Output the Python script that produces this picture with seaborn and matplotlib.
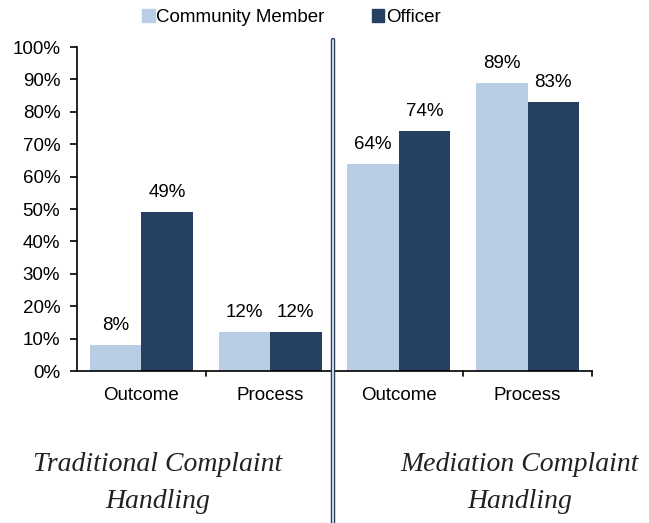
import matplotlib.pyplot as plt
import pandas as pd
import seaborn as sns
from matplotlib.lines import Line2D
from matplotlib.patches import Patch

groups = ["Traditional Outcome", "Traditional Process", "Mediation Outcome", "Mediation Process"]
tick_labels = ["Outcome", "Process", "Outcome", "Process"]
community = [8, 12, 64, 89]
officer = [49, 12, 74, 83]
series = ["Community Member", "Officer"]
section_titles = ["Traditional Complaint\nHandling", "Mediation Complaint\nHandling"]

LIGHT = "#B9CDE5"
DARK = "#254061"

df = pd.DataFrame({
    "group": groups * 2,
    "value": community + officer,
    "series": [series[0]] * 4 + [series[1]] * 4,
})

sns.set_style("white")
plt.rcParams["font.family"] = ["Liberation Sans", "DejaVu Sans"]
plt.rcParams["text.color"] = "black"
plt.rcParams["xtick.color"] = "black"
plt.rcParams["ytick.color"] = "black"

fig = plt.figure(figsize=(6.49, 5.23), dpi=100)
ax = fig.add_axes([0.1186, 0.2906, 0.7935, 0.6194])

sns.barplot(data=df, x="group", y="value", hue="series", order=groups,
            hue_order=series, palette=[LIGHT, DARK], width=0.8,
            saturation=1, linewidth=0, ax=ax, legend=False)

for cont in ax.containers:
    ax.bar_label(cont, labels=[f"{v:.0f}%" for v in cont.datavalues],
                 padding=8, fontsize=13.5, color="black")

ax.set_ylim(0, 100)
ax.set_xlim(-0.5, 3.5)
ax.set_yticks(range(0, 101, 10))
ax.set_yticklabels([f"{t}%" for t in range(0, 101, 10)], fontsize=13.5)
ax.set_xticks(range(4))
ax.set_xticklabels(tick_labels, fontsize=13.5)
ax.set_xlabel("")
ax.set_ylabel("")
for s in ["top", "right"]:
    ax.spines[s].set_visible(False)
for s in ["left", "bottom"]:
    ax.spines[s].set_color("black")
    ax.spines[s].set_linewidth(1.2)
ax.tick_params(axis="y", left=True, length=5, width=1.2, pad=7)
ax.tick_params(axis="x", bottom=False, pad=8)
for xb in [0.5, 1.5, 2.5, 3.5]:
    ax.plot([xb, xb], [0, -1.5], color="black", lw=1.2, clip_on=False)

handles = [Patch(color=LIGHT), Patch(color=DARK)]
fig.legend(handles, series, loc="center", bbox_to_anchor=(0.449, 0.966),
           ncol=2, frameon=False, fontsize=13.5, handlelength=0.65,
           handleheight=0.65, handletextpad=0.1, columnspacing=2.5)

# double separator line between the two sections
fig.add_artist(Line2D([0.5135, 0.5135], [0, 0.924], transform=fig.transFigure,
                      color=DARK, lw=3.2))
fig.add_artist(Line2D([0.5135, 0.5135], [0, 0.924], transform=fig.transFigure,
                      color="white", lw=1.1))

for xc, title in zip([0.243, 0.801], section_titles):
    fig.text(xc, 0.0765, title, ha="center", va="center", fontsize=20,
             family=["Liberation Serif", "DejaVu Serif"], style="italic",
             color="#222222", linespacing=1.65)

fig.savefig("out.png", dpi=100)
